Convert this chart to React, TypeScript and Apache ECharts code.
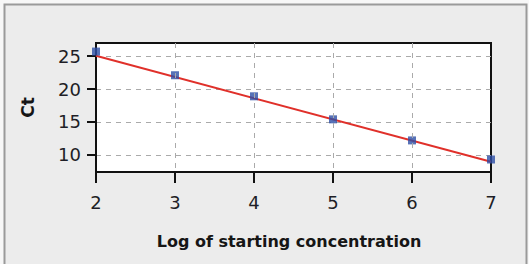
import React, { useEffect, useRef } from "react";
import * as echarts from "echarts";

const logConc = [2, 3, 4, 5, 6, 7];
const ctValues = [25.7, 22.1, 18.9, 15.4, 12.2, 9.3];
const fitX = [2, 7];
const fitY = [25.05, 8.95];
const yTicks = [10, 15, 20, 25];
const xTicks = [2, 3, 4, 5, 6, 7];

export default function App() {
  const ref = useRef<HTMLDivElement>(null);
  useEffect(() => {
    if (!ref.current) return;
    const chart = echarts.init(ref.current, null, { renderer: "svg" });
    const font = "DejaVu Sans";
    const panel = {
      type: "rect",
      z: -10,
      shape: { x: 4.5, y: 4.5, width: 522, height: 290 },
      style: { fill: "#ececec", stroke: "#9a9a9a", lineWidth: 2 },
      silent: true,
    };
    chart.setOption({
      animation: false,
      backgroundColor: "#f7f7f7",
      graphic: [panel],
      grid: {
        left: 96,
        right: 38,
        top: 43,
        bottom: 92,
        show: true,
        backgroundColor: "#ffffff",
        borderColor: "#111111",
        borderWidth: 2,
        z: 0,
      },
      xAxis: {
        type: "value",
        min: 2,
        max: 7,
        interval: 1,
        z: 5,
        name: "Log of starting concentration",
        nameLocation: "middle",
        nameGap: 61,
        nameTextStyle: { fontFamily: font, fontWeight: "bold", fontSize: 16, color: "#161616", padding: [0, 9, 0, 0] },
        axisLine: { show: true, onZero: false, lineStyle: { color: "#111", width: 2 } },
        axisTick: { show: true, length: 10, inside: false, lineStyle: { color: "#111", width: 2 } },
        axisLabel: { fontFamily: font, fontSize: 18, color: "#1e1e26", margin: 21 },
        splitLine: {
          show: true,
          showMinLine: false,
          showMaxLine: false,
          lineStyle: { color: "#aaaaaa", type: [5, 5], width: 1 },
        },
      },
      yAxis: {
        type: "value",
        min: 7.4,
        max: 27,
        name: "Ct",
        nameLocation: "middle",
        nameGap: 60,
        nameRotate: 90,
        nameTextStyle: { fontFamily: font, fontWeight: "bold", fontSize: 17, color: "#161616" },
        axisLine: { show: true, onZero: false, lineStyle: { color: "#111", width: 2 } },
        axisTick: { show: true, length: 9, lineStyle: { color: "#111", width: 2 }, customValues: yTicks },
        axisLabel: { fontFamily: font, fontSize: 18, color: "#1e1e26", margin: 15, customValues: yTicks },
        splitLine: { show: true, lineStyle: { color: "#aaaaaa", type: [5, 5], width: 1 } },
      },
      series: [
        {
          type: "line",
          data: fitX.map((x, i) => [x, fitY[i]]),
          symbol: "none",
          lineStyle: { color: "#e0302a", width: 2 },
          z: 2,
        },
        {
          type: "scatter",
          data: logConc.map((x, i) => [x, ctValues[i]]),
          symbol: "rect",
          symbolSize: 8,
          itemStyle: { color: "#2d4fa6" },
          z: 3,
        },
      ],
    });
    // explicit x tick marks, positioned through the chart's own scale
    const y0 = 7.4;
    const tickEls = xTicks.map((v) => {
      const p = chart.convertToPixel({ gridIndex: 0 }, [v, y0]) as number[];
      return {
        type: "line",
        z: 50,
        silent: true,
        shape: { x1: p[0], y1: p[1], x2: p[0], y2: p[1] + 11 },
        style: { stroke: "#111", lineWidth: 2 },
      };
    });
    chart.setOption({ graphic: [panel, ...tickEls] });
    return () => chart.dispose();
  }, []);
  return (
    <div
      ref={ref}
      style={{ position: "fixed", left: 0, top: 0, width: 529, height: 264 }}
    />
  );
}
